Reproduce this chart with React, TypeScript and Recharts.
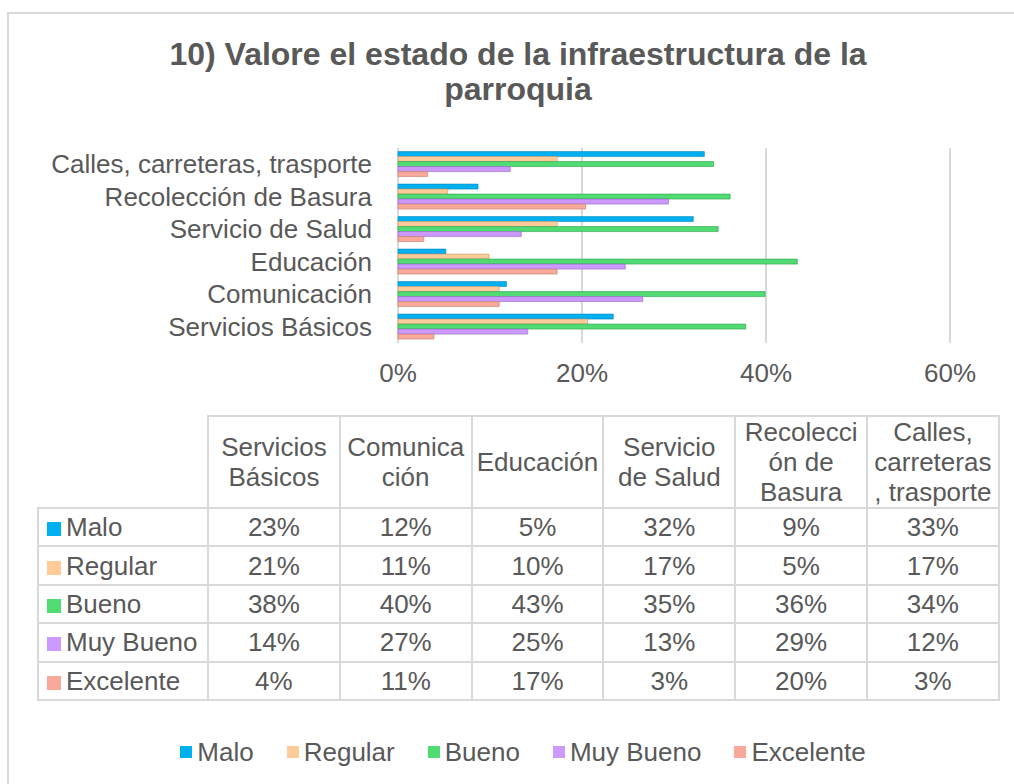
import { BarChart, Bar, XAxis, YAxis, CartesianGrid } from "recharts";

const categories = [
  "Servicios Básicos",
  "Comunicación",
  "Educación",
  "Servicio de Salud",
  "Recolección de Basura",
  "Calles, carreteras, trasporte",
];
// header cells of the data table, as Excel wraps them
const tableHeaders = [
  ["Servicios", "Básicos"],
  ["Comunica", "ción"],
  ["Educación"],
  ["Servicio", "de Salud"],
  ["Recolecci", "ón de", "Basura"],
  ["Calles,", "carreteras", ", trasporte"],
];
const xTicks = [0, 20, 40, 60];

const malo = [23.4, 11.8, 5.2, 32.1, 8.7, 33.3];
const regular = [20.6, 11.0, 9.9, 17.3, 5.4, 17.3];
const bueno = [37.8, 39.9, 43.4, 34.8, 36.1, 34.3];
const muyBueno = [14.1, 26.6, 24.7, 13.4, 29.4, 12.2];
const excelente = [3.9, 11.0, 17.3, 2.8, 20.4, 3.2];

const SERIES = [
  { key: "malo", name: "Malo", color: "#00b0f0", edge: "#0a86b8", values: malo },
  { key: "regular", name: "Regular", color: "#ffcc99", edge: "#c9996a", values: regular },
  { key: "bueno", name: "Bueno", color: "#50dc72", edge: "#2f9e4c", values: bueno },
  { key: "muyBueno", name: "Muy Bueno", color: "#cc99ff", edge: "#9467c4", values: muyBueno },
  { key: "excelente", name: "Excelente", color: "#f9a99a", edge: "#c47a6c", values: excelente },
];

const TEXT = "#595959";
const LINE = "#d9d9d9";
const FONT = "'Liberation Sans', Arial, sans-serif";
const FS = 26;

// Excel lists the first category at the bottom
const chartData = categories
  .map((name, i) => {
    const row: Record<string, string | number> = { name };
    SERIES.forEach((s) => (row[s.key] = s.values[i]));
    return row;
  })
  .reverse();

const COL0 = 170;
const COLW = 131.8;
const HEAD_H = 92;
const ROW_H = 38.4;

const cell = {
  border: `2px solid ${LINE}`,
  padding: 0,
  textAlign: "center" as const,
  verticalAlign: "middle" as const,
  color: TEXT,
};

function DataTable() {
  return (
    <table
      style={{
        position: "absolute",
        left: 37,
        top: 415,
        borderCollapse: "collapse",
        tableLayout: "fixed",
        width: COL0 + COLW * 6,
        fontSize: FS,
        lineHeight: "30px",
        fontFamily: FONT,
      }}
    >
      <colgroup>
        <col style={{ width: COL0 }} />
        {categories.map((c) => (
          <col key={c} style={{ width: COLW }} />
        ))}
      </colgroup>
      <tbody>
        <tr style={{ height: HEAD_H }}>
          <td style={{ ...cell, borderTop: "none", borderLeft: "none" }} />
          {tableHeaders.map((lines, i) => (
            <td key={i} style={cell}>
              {lines.map((l, j) => (
                <div key={j} style={{ whiteSpace: "nowrap" }}>
                  {l}
                </div>
              ))}
            </td>
          ))}
        </tr>
        {SERIES.map((s) => (
          <tr key={s.key} style={{ height: ROW_H }}>
            <td style={{ ...cell, textAlign: "left", whiteSpace: "nowrap" }}>
              <span
                style={{
                  display: "inline-block",
                  width: 14,
                  height: 14,
                  background: s.color,
                  margin: "0 5px 0 8px",
                }}
              />
              {s.name}
            </td>
            {s.values.map((v, i) => (
              <td key={i} style={cell}>
                {Math.round(v)}%
              </td>
            ))}
          </tr>
        ))}
      </tbody>
    </table>
  );
}

export default function App() {
  return (
    <div
      style={{
        position: "absolute",
        left: 0,
        top: 0,
        width: 1014,
        height: 784,
        overflow: "hidden",
        background: "#fff",
        fontFamily: FONT,
      }}
    >
      <div
        style={{
          position: "absolute",
          left: 7,
          top: 12,
          width: 1100,
          height: 900,
          border: `2px solid ${LINE}`,
        }}
      />
      <div
        style={{
          position: "absolute",
          left: 0,
          top: 37,
          width: 1036,
          textAlign: "center",
          fontSize: 32,
          fontWeight: 700,
          lineHeight: "35px",
          color: TEXT,
        }}
      >
        10) Valore el estado de la infraestructura de la
        <br />
        parroquia
      </div>

      <div style={{ position: "absolute", left: 0, top: 0 }}>
        <BarChart
          width={1014}
          height={410}
          data={chartData}
          layout="vertical"
          margin={{ top: 148, right: 64, bottom: 27, left: 0 }}
          barCategoryGap="11%"
          barGap={0}
        >
          <CartesianGrid horizontal={false} stroke={LINE} strokeWidth={2} />
          <XAxis
            type="number"
            domain={[0, 60]}
            ticks={xTicks}
            tickFormatter={(v) => `${v}%`}
            axisLine={false}
            tickLine={false}
            tickMargin={15}
            height={40}
            tick={{ fill: TEXT, fontSize: FS, fontFamily: FONT }}
          />
          <YAxis
            type="category"
            dataKey="name"
            width={398}
            axisLine={false}
            tickLine={false}
            tickMargin={20}
            interval={0}
            tick={{ fill: TEXT, fontSize: FS, fontFamily: FONT }}
          />
          {SERIES.map((s) => (
            <Bar
              key={s.key}
              dataKey={s.key}
              name={s.name}
              fill={s.color}
              stroke={s.edge}
              strokeWidth={0.6}
              isAnimationActive={false}
            />
          ))}
        </BarChart>
      </div>

      <DataTable />

      <div
        style={{
          position: "absolute",
          left: 0,
          top: 736,
          width: 1046,
          display: "flex",
          justifyContent: "center",
          alignItems: "center",
          gap: 33,
          fontSize: FS,
          lineHeight: "32px",
          color: TEXT,
        }}
      >
        {SERIES.map((s) => (
          <div key={s.key} style={{ display: "flex", alignItems: "center" }}>
            <span
              style={{
                display: "inline-block",
                width: 12,
                height: 12,
                background: s.color,
                marginRight: 5,
              }}
            />
            {s.name}
          </div>
        ))}
      </div>
    </div>
  );
}
